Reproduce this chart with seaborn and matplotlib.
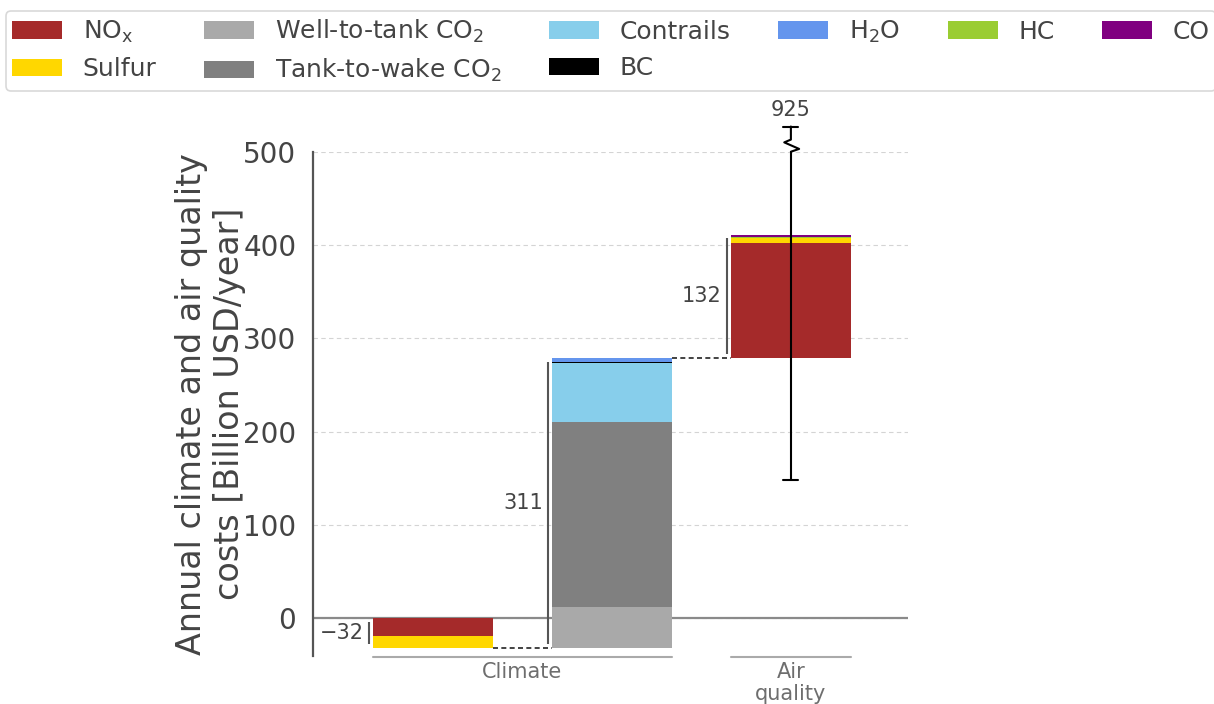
import matplotlib
matplotlib.use("Agg")
import matplotlib.pyplot as plt
from matplotlib.patches import Patch
import pandas as pd
import seaborn as sns

# Emission species: keys, legend text and colours (legend order, column-major)
species = ["NOx", "Sulfur", "WTT_CO2", "TTW_CO2", "Contrails", "BC", "H2O", "HC", "CO"]
species_labels = ["NO$_x$", "Sulfur", "Well-to-tank CO$_2$", "Tank-to-wake CO$_2$",
                  "Contrails", "BC", "H$_2$O", "HC", "CO"]
species_colors = ["brown", "gold", "darkgray", "gray", "skyblue", "black",
                  "cornflowerblue", "yellowgreen", "purple"]

# Waterfall steps in billion USD/year, each stacked from its base outwards
climate_cooling_species = ["NOx", "Sulfur"]
climate_cooling_values = [-19.5, -12.5]
climate_warming_species = ["WTT_CO2", "TTW_CO2", "Contrails", "BC", "H2O"]
climate_warming_values = [44.0, 198.0, 63.0, 1.7, 4.3]
air_quality_species = ["NOx", "Sulfur", "HC", "CO"]
air_quality_values = [123.0, 6.0, 0.4, 2.6]

# Uncertainty range of the combined total
total_low = 148
total_high = 925

group_names = ["Climate", "Air\nquality"]
y_ticks = [0, 100, 200, 300, 400, 500]

steps = [
    (climate_cooling_species, climate_cooling_values),
    (climate_warming_species, climate_warming_values),
    (air_quality_species, air_quality_values),
]
step_groups = [0, 0, 1]

color_of = dict(zip(species, species_colors))

# Long table of bar segments with their stacking bases
rows = []
level = 0.0
step_ranges = []
for pos, (names, vals) in enumerate(steps):
    start = level
    for name, val in zip(names, vals):
        rows.append(dict(pos=pos, species=name, value=val, bottom=level))
        level += val
    step_ranges.append((start, level))
segments = pd.DataFrame(rows)

BAR_W = 0.67
TEXT = "#444444"
Y_MIN, Y_MAX = -40.5, 500

sns.set_theme(style="white")
plt.rcParams["font.family"] = ["DejaVu Sans"]
plt.rcParams["mathtext.default"] = "regular"

fig = plt.figure(figsize=(12.14, 7.04), dpi=100)
ax = fig.add_axes([0.2578, 0.0682, 0.4901, 0.7163])

for _, seg in segments.iterrows():
    sns.barplot(x=[seg["pos"]], y=[seg["value"]], bottom=seg["bottom"],
                native_scale=True, orient="x", width=BAR_W,
                color=color_of[seg["species"]], saturation=1,
                linewidth=0, errorbar=None, ax=ax, zorder=2)

ax.set_xlim(-0.67, 2.654)
ax.set_ylim(Y_MIN, Y_MAX)
ax.set_xticks([])
ax.set_yticks(y_ticks)
ax.set_yticklabels([str(t) for t in y_ticks])
ax.tick_params(axis="y", length=0, pad=12, labelsize=20, labelcolor=TEXT)
ax.set_xlabel("")
ax.set_ylabel("Annual climate and air quality\ncosts [Billion USD/year]",
              fontsize=24, color=TEXT, labelpad=-2)

ax.set_axisbelow(True)
ax.yaxis.grid(True, linestyle=(0, (4, 3)), color="#d4d4d4", linewidth=0.8)
ax.axhline(0, color="#8a8a8a", linewidth=1.6, zorder=1)

for side in ["top", "right", "bottom"]:
    ax.spines[side].set_visible(False)
ax.spines["left"].set_color("#555555")
ax.spines["left"].set_linewidth(1.6)

# Step totals: bracket and value to the left of each bar
for pos, (start, end) in enumerate(step_ranges):
    xb = pos - BAR_W / 2 - 0.02
    lo, hi = sorted((start, end))
    ax.plot([xb, xb], [lo + 4, hi - 4], color="#555555", linewidth=1.5,
            solid_capstyle="butt", zorder=3)
    label = f"{round(end - start):d}".replace("-", "\u2212")
    ax.annotate(label, xy=(xb, (start + end) / 2), xytext=(-4, 0),
                textcoords="offset points", ha="right", va="center",
                fontsize=15, color=TEXT)

# Dashed connectors between consecutive steps
for pos in range(len(step_ranges) - 1):
    lvl = step_ranges[pos][1]
    ax.plot([pos + BAR_W / 2, pos + 1 - BAR_W / 2], [lvl, lvl], color="#222222",
            linewidth=1.2, linestyle=(0, (3, 2)), zorder=3)

# Uncertainty range on the final bar, broken above the axis top
xe = len(steps) - 1
cap = 0.042
err_kw = dict(color="black", linewidth=1.5, clip_on=False, zorder=4)
ax.plot([xe, xe], [total_low, Y_MAX], **err_kw)
ax.plot([xe - cap, xe + cap], [total_low, total_low], **err_kw)
brk_x = [xe, xe + 0.046, xe - 0.037, xe, xe]
brk_y = [Y_MAX, Y_MAX + 3, Y_MAX + 10, Y_MAX + 13, Y_MAX + 27]
ax.plot(brk_x, brk_y, **err_kw)
ax.plot([xe - cap, xe + cap], [Y_MAX + 27, Y_MAX + 27], **err_kw)
ax.annotate(f"{total_high}", xy=(xe, Y_MAX + 27), xytext=(0, 5),
            textcoords="offset points", ha="center", va="bottom",
            fontsize=15, color=TEXT, annotation_clip=False)

# Group brackets and names below the bars
for g, name in enumerate(group_names):
    members = [p for p, gg in enumerate(step_groups) if gg == g]
    x0 = min(members) - BAR_W / 2
    x1 = max(members) + BAR_W / 2
    ax.plot([x0, x1], [Y_MIN - 1, Y_MIN - 1], color="#aaaaaa", linewidth=1.5,
            clip_on=False)
    ax.annotate(name, xy=((x0 + x1) / 2, Y_MIN - 1), xytext=(0, -4),
                textcoords="offset points", ha="center", va="top",
                fontsize=15, color="#6e6e6e", annotation_clip=False,
                linespacing=1.1)

handles = [Patch(facecolor=c, edgecolor="none") for c in species_colors]
leg = fig.legend(handles, species_labels, loc="upper left",
                 bbox_to_anchor=(0.005, 0.984), ncol=6, fontsize=18,
                 frameon=True, fancybox=True, borderpad=0.25, borderaxespad=0,
                 handlelength=2.0, columnspacing=1.91, handletextpad=0.82,
                 labelspacing=0.5)
leg.get_frame().set_edgecolor("#cfcfcf")
leg.get_frame().set_linewidth(1.2)
for t in leg.get_texts():
    t.set_color(TEXT)

fig.savefig("out.png", dpi=100, facecolor="white")
